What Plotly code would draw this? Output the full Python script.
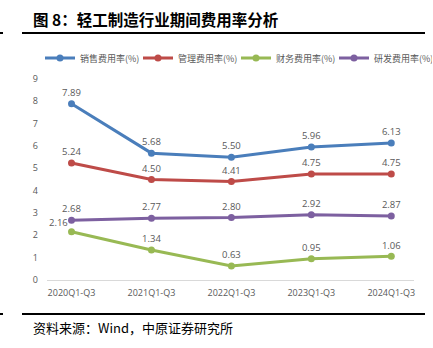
import plotly.graph_objects as go

categories = ["2020Q1-Q3", "2021Q1-Q3", "2022Q1-Q3", "2023Q1-Q3", "2024Q1-Q3"]
series_names = ["销售费用率(%)", "管理费用率(%)", "财务费用率(%)", "研发费用率(%)"]
sales = [7.89, 5.68, 5.50, 5.96, 6.13]
admin = [5.24, 4.50, 4.41, 4.75, 4.75]
finance = [2.16, 1.34, 0.63, 0.95, 1.06]
rnd = [2.68, 2.77, 2.80, 2.92, 2.87]
colors = ["#4A7EBB", "#BE4B48", "#98B954", "#7D60A0"]

W, H = 433, 348
L, R, T, B = 47, 414, 79, 280
def px(x):
    return (x - L) / (R - L)
def py(y):
    return (B - y) / (B - T)

label_font = dict(size=9.5, color="#595959", family="Open Sans, Arial")

fig = go.Figure()
data = [sales, admin, finance, rnd]
for name, vals, col in zip(series_names, data, colors):
    texts = [f"{v:.2f}" for v in vals]
    if vals is finance:
        texts[0] = ""
    fig.add_trace(go.Scatter(
        x=categories, y=vals, name=name, mode="lines+markers+text",
        line=dict(color=col, width=3), marker=dict(color=col, size=7),
        text=texts, textposition="top center",
        textfont=label_font, cliponaxis=False,
    ))

# finance first label sits above-left of its point
fig.add_annotation(x=categories[0], y=finance[0], text=f"{finance[0]:.2f}", showarrow=False,
                   xshift=-13, yshift=9, font=label_font)

fig.update_layout(
    width=W, height=H,
    margin=dict(l=L, r=W - R, t=T, b=H - B),
    paper_bgcolor="white", plot_bgcolor="white",
    showlegend=True,
    legend=dict(orientation="h", x=px(40), xanchor="left", y=py(58), yanchor="middle",
                font=dict(size=9, color="#595959", family="Noto Sans CJK SC"),
                itemwidth=30, entrywidth=53, entrywidthmode="pixels",
                tracegroupgap=0, bgcolor="rgba(0,0,0,0)"),
    xaxis=dict(showgrid=False, showline=False, zeroline=False,
               tickfont=dict(size=9, color="#595959", family="Open Sans, Arial"),
               ticks="", ticklabelstandoff=6),
    yaxis=dict(range=[0, 9], dtick=1, showgrid=False, zeroline=True, zerolinecolor="#D9D9D9",
               zerolinewidth=1, showline=False, ticks="",
               tickfont=dict(size=9, color="#595959", family="Open Sans, Arial"),
               ticklabelstandoff=8),
)

shapes = [
    dict(type="line", xref="paper", yref="paper", x0=px(22), x1=px(425), y0=py(33), y1=py(33),
         line=dict(color="black", width=2)),
    dict(type="line", xref="paper", yref="paper", x0=px(22), x1=px(425), y0=py(314), y1=py(314),
         line=dict(color="black", width=2)),
    dict(type="line", xref="paper", yref="paper", x0=px(0), x1=px(3), y0=py(33), y1=py(33),
         line=dict(color="black", width=2)),
    dict(type="line", xref="paper", yref="paper", x0=px(0), x1=px(3), y0=py(314), y1=py(314),
         line=dict(color="black", width=2)),
]
fig.update_layout(shapes=shapes)

fig.add_annotation(text="<b>图 8：轻工制造行业期间费用率分析</b>", xref="paper", yref="paper",
                   x=px(31), y=py(19), xanchor="left", yanchor="middle", showarrow=False,
                   font=dict(size=15.5, color="black", family="Noto Sans CJK SC"))
fig.add_annotation(text="资料来源：Wind，中原证券研究所", xref="paper", yref="paper",
                   x=px(31), y=py(327), xanchor="left", yanchor="middle", showarrow=False,
                   font=dict(size=13, color="black", family="Noto Sans CJK SC"))

fig.write_html("out.html")
